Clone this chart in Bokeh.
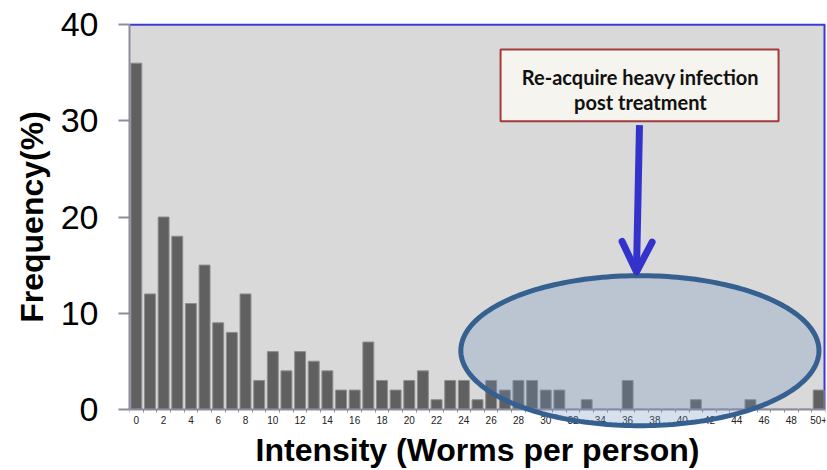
import numpy as np
from bokeh.plotting import figure
from bokeh.models import (ColumnDataSource, Range1d, FixedTicker, BoxAnnotation,
                          Label, Arrow, OpenHead, PolyAnnotation, LinearAxis)
from bokeh.embed import file_html
from bokeh.resources import INLINE

# Worm-count bins (0 .. 49 worms, then 50 or more)
bins = [str(i) for i in range(50)] + ["50+"]

# Share of people (%) in each bin
freq = [36, 12, 20, 18, 11, 15, 9, 8, 12, 3,
        6, 4, 6, 5, 4, 2, 2, 7, 3, 2,
        3, 4, 1, 3, 3, 1, 3, 2, 3, 3,
        2, 2, 0, 1, 0, 0, 3, 0, 0, 0,
        0, 1, 0, 0, 0, 1, 0, 0, 0, 0,
        2]

# Bins that carry a tick label
labelled_bins = ["0", "2", "4", "6", "8", "10", "12", "14", "16", "18", "20",
                 "22", "24", "26", "28", "30", "32", "34", "36", "38", "40",
                 "42", "44", "46", "48", "50+"]
y_ticks = [0, 10, 20, 30, 40]

note_lines = ["Re-acquire heavy infection", "post treatment"]

AXIS_GREY = "#8c8c9c"
BORDER_BLUE = "#3b3bd1"
FONT = "Liberation Sans"

pos = list(range(len(bins)))
src = ColumnDataSource(dict(x=pos, top=freq, bin=bins))

x_lo, x_hi = -0.5, len(bins) - 0.5
y_lo, y_hi = 0, 40
pad = 2.1   # extra room below 0 (and above 40) for the highlight ellipse

p = figure(width=827, height=470, output_backend="svg", toolbar_location=None,
           x_range=Range1d(x_lo, x_hi), y_range=Range1d(y_lo - pad, y_hi + pad),
           min_border_left=129, min_border_right=2, min_border_top=4,
           min_border_bottom=39)
p.background_fill_color = "white"
p.border_fill_color = "white"
p.outline_line_color = None
p.xgrid.visible = False
p.ygrid.visible = False

# grey plotting area between 0 and 40
p.add_layout(BoxAnnotation(left=x_lo, right=x_hi, bottom=y_lo, top=y_hi,
                           fill_color="#d9d9d9", fill_alpha=1,
                           line_color=None, level="underlay"))
# blue border along the top and right of the plotting area
p.line(x=[x_lo, x_hi], y=[y_hi, y_hi], line_color=BORDER_BLUE, line_width=2)
p.line(x=[x_hi, x_hi], y=[y_hi, y_lo], line_color=BORDER_BLUE, line_width=4)

p.vbar(x="x", top="top", width=0.8, source=src,
       fill_color="#606060", line_color="#8e8e8e", line_width=1)

# x axis pinned at y = 0: labels under every second bin, marks on bin edges
xa = p.xaxis[0]
xa.fixed_location = 0
tick_pos = [bins.index(b) for b in labelled_bins]
xa.ticker = FixedTicker(ticks=tick_pos,
                        minor_ticks=[i - 0.5 for i in range(len(bins) + 1)])
xa.major_label_overrides = {int(i): bins[i] for i in tick_pos}
xa.major_tick_out = 0
xa.major_tick_in = 0
xa.minor_tick_out = 3
xa.minor_tick_in = 0
xa.minor_tick_line_color = AXIS_GREY
xa.axis_line_color = AXIS_GREY
xa.axis_line_width = 2
xa.major_label_text_font = FONT
xa.major_label_text_font_size = "10px"
xa.major_label_text_color = "#222222"
xa.major_label_standoff = 4

# bare axis below the frame that only carries the x title
xt = LinearAxis(ticker=FixedTicker(ticks=[]), axis_line_color=None,
                major_tick_line_color=None, minor_tick_line_color=None,
                major_tick_out=0, major_label_standoff=0,
                axis_label="Intensity (Worms per person)",
                axis_label_text_font=FONT, axis_label_text_font_style="bold",
                axis_label_text_font_size="32px", axis_label_text_color="black",
                axis_label_standoff=2)
p.add_layout(xt, "below")

ya = p.yaxis[0]
ya.bounds = (y_lo, y_hi)
ya.ticker = FixedTicker(ticks=y_ticks, minor_ticks=[])
ya.major_tick_out = 11
ya.major_tick_in = 0
ya.major_tick_line_color = AXIS_GREY
ya.major_tick_line_width = 2
ya.minor_tick_line_color = None
ya.axis_line_color = AXIS_GREY
ya.axis_line_width = 2
ya.major_label_text_font = FONT
ya.major_label_text_font_size = "34px"
ya.major_label_text_color = "black"
ya.major_label_standoff = 20
ya.axis_label = "Frequency(%)"
ya.axis_label_text_font = FONT
ya.axis_label_text_font_style = "bold"
ya.axis_label_text_font_size = "32px"
ya.axis_label_text_color = "black"
ya.axis_label_standoff = 8

# Highlighted region of heavy re-infection (ellipse in data space)
cx, cy, rx, ry = 36.9, 6.1, 13.12, 7.8
t = np.linspace(0, 2 * np.pi, 241)
ring = PolyAnnotation(xs=list(cx + rx * np.cos(t)), ys=list(cy + ry * np.sin(t)),
                      fill_color="#6a90c2", fill_alpha=0.27,
                      line_color="#35608f", line_alpha=1, line_width=5)
p.add_layout(ring)

# Arrow from the note down to the ellipse
p.add_layout(Arrow(x_start=36.87, y_start=29.56, x_end=36.65, y_end=14.3,
                   line_color="#3333cc", line_width=7, line_cap="butt",
                   end=OpenHead(size=30, line_color="#3333cc", line_width=7,
                                line_cap="round", line_join="round")))

# Note box with its two lines of text
p.add_layout(BoxAnnotation(left=26.69, right=47.06, top=37.42, bottom=29.97,
                           fill_color="#f5f4ee", fill_alpha=1,
                           line_color="#a33b3b", line_alpha=1, line_width=2))
for line, yb in zip(note_lines, [34.6, 32.0]):
    p.add_layout(Label(x=36.94, y=yb, text=line, text_align="center",
                       text_baseline="alphabetic", text_font="Lato",
                       text_font_style="bold", text_font_size="20px",
                       text_color="#111111"))

open("out.html", "w").write(file_html(p, INLINE))
